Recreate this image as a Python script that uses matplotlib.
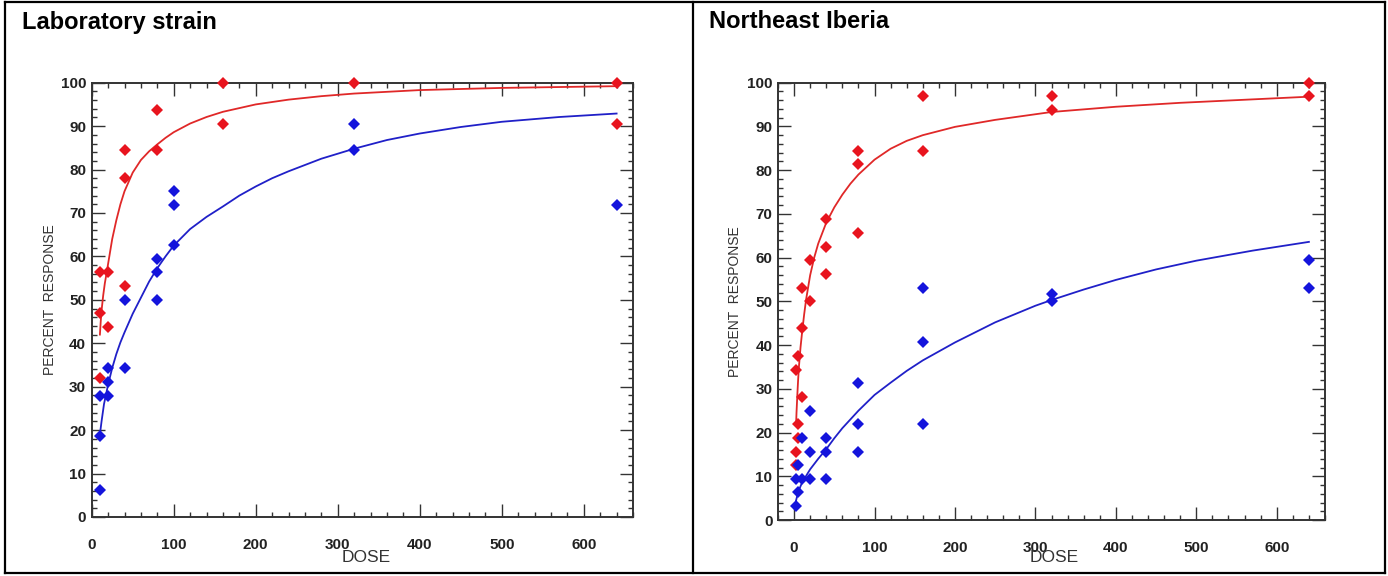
import matplotlib
matplotlib.use('Agg')
import matplotlib.pyplot as plt
from matplotlib.lines import Line2D
from matplotlib.ticker import MultipleLocator

plt.rcParams['font.family'] = ['Liberation Sans', 'DejaVu Sans']

# Laboratory strain - observed points
lab_red_dose = [10, 10, 10, 20, 20, 40, 40, 40, 80, 80, 160, 160, 320, 640, 640]
lab_red_resp = [56.3, 46.9, 32.1, 56.3, 43.7, 84.4, 78.1, 53.1, 93.7, 84.4, 100, 90.6, 100, 100, 90.6]
lab_blue_dose = [10, 10, 10, 20, 20, 20, 40, 40, 80, 80, 80, 100, 100, 100, 320, 320, 640]
lab_blue_resp = [27.9, 18.6, 6.3, 34.2, 31.1, 27.9, 50, 34.2, 59.4, 56.3, 50, 75, 71.9, 62.6, 90.6, 84.4, 71.9]

# Laboratory strain - fitted curves
lab_red_fit_dose = [10, 11, 12, 14, 16, 18, 20, 25, 30, 35, 40, 50, 60, 70, 80, 90, 100, 120, 140,
                    160, 200, 240, 280, 320, 400, 500, 640]
lab_red_fit_resp = [42, 45, 47.5, 51, 53.8, 56, 58.3, 64, 68.3, 72, 75, 79.3, 82.2, 84.2, 85.8, 87.3,
                    88.6, 90.6, 92.1, 93.3, 95, 96.1, 96.9, 97.5, 98.3, 98.8, 99.2]
lab_blue_fit_dose = [10, 12, 15, 20, 25, 30, 35, 40, 50, 60, 70, 80, 90, 100, 120, 140, 160, 180,
                     200, 220, 240, 280, 320, 360, 400, 450, 500, 570, 640]
lab_blue_fit_resp = [19, 22, 26, 30.5, 34.3, 37.5, 40.2, 42.5, 46.8, 50.5, 54.2, 57.3, 60, 62.5,
                     66.3, 69.1, 71.5, 74, 76.1, 78, 79.6, 82.5, 84.8, 86.8, 88.3, 89.8, 91, 92.1, 92.9]

# Northeast Iberia - observed points
ne_red_dose = [2.5, 2.5, 2.5, 5, 5, 5, 10, 10, 10, 20, 20, 40, 40, 40, 80, 80, 80, 160, 160, 320, 320, 640, 640]
ne_red_resp = [34.3, 15.6, 12.5, 37.5, 21.9, 18.8, 53.1, 43.8, 28.1, 59.4, 50, 68.8, 62.5, 56.3,
               84.4, 81.3, 65.6, 96.9, 84.4, 96.9, 93.8, 100, 96.9]
ne_blue_dose = [2.5, 2.5, 5, 5, 10, 10, 20, 20, 20, 40, 40, 40, 80, 80, 80, 160, 160, 160, 320, 320, 640, 640]
ne_blue_resp = [3.1, 9.4, 6.3, 12.5, 18.8, 9.4, 25, 15.6, 9.4, 18.8, 15.6, 9.4, 31.3, 21.9, 15.6,
                53.1, 40.6, 21.9, 51.6, 50, 59.4, 53.1]

# Northeast Iberia - fitted curves
ne_red_fit_dose = [2.5, 3, 4, 5, 6, 8, 10, 12.5, 15, 20, 25, 30, 40, 50, 60, 70, 80, 100, 120, 140,
                   160, 200, 250, 320, 400, 480, 560, 640]
ne_red_fit_resp = [22, 24.5, 28.5, 32, 35, 39.5, 43, 47, 50.5, 56, 60, 63.2, 68, 71.5, 74.4, 76.9,
                   79, 82.4, 84.9, 86.7, 88, 89.9, 91.5, 93.3, 94.5, 95.4, 96.1, 96.8]
ne_blue_fit_dose = [2.5, 5, 7.5, 10, 15, 20, 30, 40, 50, 60, 80, 100, 120, 140, 160, 200, 250, 300,
                    320, 360, 400, 450, 500, 570, 640]
ne_blue_fit_resp = [4.5, 6.3, 7.5, 8.6, 10.1, 11.6, 14, 16.2, 18.7, 21, 25, 28.6, 31.4, 34.1, 36.5,
                    40.6, 45.2, 49, 50.3, 52.7, 54.9, 57.3, 59.3, 61.6, 63.6]

RED = '#e8141e'
BLUE = '#1414dc'
W, H = 1388, 576


def draw_panel(ax, red, blue, red_fit, blue_fit, xmin):
    ax.plot(red_fit[0], red_fit[1], color='#e02828', lw=1.3, zorder=2)
    ax.plot(blue_fit[0], blue_fit[1], color='#2020c8', lw=1.3, zorder=2)
    ax.plot(red[0], red[1], 'D', color=RED, ms=6, mew=0, clip_on=False, zorder=3)
    ax.plot(blue[0], blue[1], 'D', color=BLUE, ms=6, mew=0, clip_on=False, zorder=3)

    ax.set_xlim(xmin, 660)
    ax.set_ylim(0, 100)
    ax.set_xticks([0, 100, 200, 300, 400, 500, 600])
    ax.set_yticks(range(0, 101, 10))
    ax.xaxis.set_minor_locator(MultipleLocator(20))
    ax.yaxis.set_minor_locator(MultipleLocator(2))
    ax.tick_params(which='both', direction='in', top=True, right=True, color='#333333', width=1.0)
    ax.tick_params(which='major', length=9.5)
    ax.tick_params(which='minor', length=3.6)
    ax.tick_params(axis='x', pad=15)
    ax.tick_params(axis='y', pad=4)
    for lab in ax.get_xticklabels() + ax.get_yticklabels():
        lab.set_fontweight('bold')
        lab.set_fontsize(11)
        lab.set_color('#222222')
    for sp in ax.spines.values():
        sp.set_linewidth(1.4)
        sp.set_color('#333333')
    ax.set_ylabel('PERCENT  RESPONSE', fontsize=10, color='#333333')


def hline(x0, x1, y):
    return Line2D([x0 / W, x1 / W], [1 - y / H, 1 - y / H], transform=fig.transFigure,
                  color='black', lw=1.6)


def vline(x, y0, y1):
    return Line2D([x / W, x / W], [1 - y0 / H, 1 - y1 / H], transform=fig.transFigure,
                  color='black', lw=1.6)


fig = plt.figure(figsize=(W / 100, H / 100), dpi=100)

ax1 = fig.add_axes([91.7 / W, 1 - 517 / H, 541.3 / W, 434.3 / H])
draw_panel(ax1, (lab_red_dose, lab_red_resp), (lab_blue_dose, lab_blue_resp),
           (lab_red_fit_dose, lab_red_fit_resp), (lab_blue_fit_dose, lab_blue_fit_resp), 0)
ax1.yaxis.set_label_coords(-0.064, 0.5)

ax2 = fig.add_axes([778 / W, 1 - 520 / H, 547 / W, 437.3 / H])
draw_panel(ax2, (ne_red_dose, ne_red_resp), (ne_blue_dose, ne_blue_resp),
           (ne_red_fit_dose, ne_red_fit_resp), (ne_blue_fit_dose, ne_blue_fit_resp), -20)
ax2.yaxis.set_label_coords(-0.066, 0.5)

# panel titles and x labels
fig.text(22 / W, 1 - 22 / H, 'Laboratory strain', fontsize=17, fontweight='bold', va='center')
fig.text(709 / W, 1 - 22 / H, 'Northeast Iberia', fontsize=17, fontweight='bold', va='center')
fig.text(366 / W, 1 - 558 / H, 'DOSE', fontsize=12.5, color='#333333', ha='center', va='center')
fig.text(1054 / W, 1 - 558 / H, 'DOSE', fontsize=12.5, color='#333333', ha='center', va='center')

# table borders
fig.add_artist(hline(5, 1385, 2))
fig.add_artist(hline(5, 1385, 573))
fig.add_artist(vline(5, 2, 573))
fig.add_artist(vline(693, 2, 573))
fig.add_artist(vline(1385, 2, 573))

fig.savefig('out.png', dpi=100)
